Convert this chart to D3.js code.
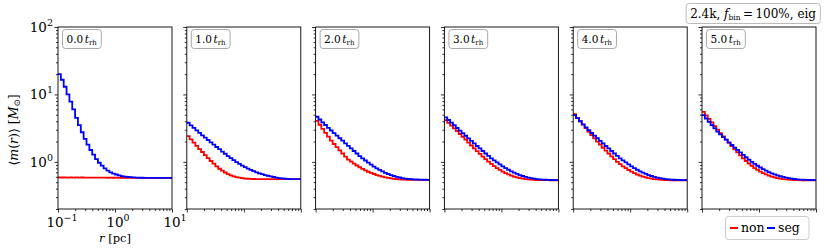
<!DOCTYPE html>
<html lang="en">
<head>
<meta charset="UTF-8">
<title>mean mass profile</title>
<script src="https://d3js.org/d3.v7.min.js"></script>
<style>
  body { margin: 0; background: #fff; }
  svg text { font-family: "DejaVu Serif", serif; fill: #000; }
</style>
</head>
<body>
<div id="chart"></div>
<script>
// snapshot labels (in t_rh)
const times = ["0.0", "1.0", "2.0", "3.0", "4.0", "5.0"];

// <m(r)> per radial bin (40 log bins, 0.1 - 10 pc)
const nonSeg = [
  [0.59, 0.586, 0.589, 0.584, 0.588, 0.585, 0.587, 0.583, 0.586, 0.584, 0.585, 0.582, 0.585, 0.583, 0.584, 0.582, 0.583, 0.581, 0.583, 0.581, 0.582, 0.58, 0.581, 0.58, 0.581, 0.579, 0.58, 0.579, 0.58, 0.579, 0.579, 0.578, 0.579, 0.578, 0.578, 0.578, 0.577, 0.578, 0.577, 0.577],
  [2.41, 2.15, 1.93, 1.73, 1.55, 1.40, 1.26, 1.14, 1.03, 0.94, 0.86, 0.79, 0.74, 0.695, 0.66, 0.632, 0.61, 0.595, 0.582, 0.573, 0.566, 0.562, 0.559, 0.557, 0.556, 0.555, 0.554, 0.554, 0.554, 0.554, 0.553, 0.553, 0.553, 0.553, 0.553, 0.553, 0.553, 0.553, 0.553, 0.553],
  [4.06, 3.55, 3.09, 2.69, 2.36, 2.07, 1.84, 1.65, 1.48, 1.33, 1.20, 1.08, 1.01, 0.944, 0.883, 0.832, 0.785, 0.746, 0.713, 0.685, 0.661, 0.638, 0.619, 0.604, 0.59, 0.578, 0.569, 0.561, 0.555, 0.551, 0.547, 0.545, 0.543, 0.543, 0.542, 0.542, 0.541, 0.541, 0.541, 0.541],
  [4.16, 3.78, 3.44, 3.13, 2.85, 2.59, 2.35, 2.13, 1.93, 1.75, 1.58, 1.44, 1.31, 1.20, 1.10, 1.01, 0.933, 0.867, 0.809, 0.760, 0.718, 0.682, 0.652, 0.627, 0.605, 0.589, 0.575, 0.565, 0.556, 0.55, 0.545, 0.541, 0.538, 0.537, 0.536, 0.535, 0.535, 0.534, 0.534, 0.534],
  [5.1, 4.5, 4.0, 3.56, 3.16, 2.79, 2.5, 2.24, 2.0, 1.8, 1.62, 1.47, 1.33, 1.21, 1.10, 1.0, 0.925, 0.86, 0.805, 0.757, 0.715, 0.68, 0.65, 0.625, 0.604, 0.587, 0.573, 0.563, 0.555, 0.549, 0.544, 0.54, 0.537, 0.535, 0.534, 0.533, 0.533, 0.533, 0.532, 0.532],
  [5.53, 4.9, 4.35, 3.85, 3.4, 3.0, 2.66, 2.38, 2.13, 1.91, 1.71, 1.53, 1.38, 1.25, 1.13, 1.03, 0.94, 0.87, 0.81, 0.76, 0.718, 0.682, 0.652, 0.627, 0.606, 0.589, 0.575, 0.565, 0.556, 0.55, 0.545, 0.541, 0.538, 0.536, 0.535, 0.534, 0.534, 0.533, 0.533, 0.533]
];
const seg = [
  [20, 16.5, 13, 10, 7.8, 6.0, 4.5, 3.5, 2.75, 2.2, 1.8, 1.5, 1.28, 1.1, 0.97, 0.88, 0.8, 0.74, 0.7, 0.67, 0.65, 0.63, 0.615, 0.605, 0.598, 0.592, 0.588, 0.585, 0.583, 0.581, 0.58, 0.579, 0.579, 0.578, 0.578, 0.578, 0.577, 0.577, 0.577, 0.577],
  [3.80, 3.48, 3.20, 2.94, 2.69, 2.47, 2.29, 2.11, 1.95, 1.80, 1.66, 1.54, 1.42, 1.32, 1.22, 1.135, 1.06, 0.993, 0.933, 0.881, 0.836, 0.794, 0.759, 0.728, 0.70, 0.676, 0.656, 0.638, 0.622, 0.608, 0.596, 0.585, 0.575, 0.569, 0.562, 0.558, 0.556, 0.555, 0.553, 0.553],
  [4.67, 4.25, 3.86, 3.52, 3.20, 2.92, 2.67, 2.45, 2.24, 2.06, 1.88, 1.73, 1.58, 1.45, 1.33, 1.22, 1.13, 1.047, 0.973, 0.908, 0.851, 0.802, 0.759, 0.721, 0.689, 0.661, 0.637, 0.617, 0.60, 0.586, 0.575, 0.566, 0.56, 0.555, 0.551, 0.548, 0.546, 0.545, 0.543, 0.542],
  [4.57, 4.18, 3.82, 3.49, 3.18, 2.91, 2.66, 2.44, 2.23, 2.05, 1.88, 1.72, 1.58, 1.45, 1.33, 1.23, 1.13, 1.05, 0.98, 0.915, 0.858, 0.808, 0.764, 0.725, 0.692, 0.663, 0.638, 0.617, 0.60, 0.585, 0.573, 0.563, 0.556, 0.55, 0.546, 0.543, 0.54, 0.538, 0.537, 0.536],
  [4.94, 4.45, 4.0, 3.6, 3.25, 2.95, 2.68, 2.45, 2.24, 2.05, 1.88, 1.72, 1.58, 1.45, 1.33, 1.23, 1.13, 1.05, 0.98, 0.915, 0.858, 0.808, 0.764, 0.725, 0.692, 0.663, 0.638, 0.617, 0.60, 0.585, 0.573, 0.563, 0.556, 0.55, 0.546, 0.543, 0.54, 0.538, 0.537, 0.536],
  [4.94, 4.4, 3.92, 3.5, 3.13, 2.8, 2.55, 2.33, 2.13, 1.95, 1.78, 1.63, 1.5, 1.38, 1.27, 1.17, 1.08, 1.0, 0.935, 0.876, 0.825, 0.78, 0.74, 0.705, 0.676, 0.651, 0.63, 0.612, 0.597, 0.584, 0.573, 0.564, 0.557, 0.551, 0.547, 0.543, 0.541, 0.539, 0.538, 0.537]
];

const rRange = [0.1, 10];
const mRange = [0.2, 100];
const nBins = 40;
// log-spaced bin edges in r
const edges = d3.range(nBins + 1).map(i => Math.pow(10, Math.log10(rRange[0]) + i * Math.log10(rRange[1] / rRange[0]) / nBins));

const W = 830, H = 249;
const left0 = 58, pw = 114, gap = 14.8;
const yTop = 27, yBot = 209;

const svg = d3.select("#chart").append("svg")
  .attr("width", W).attr("height", H)
  .attr("font-family", '"DejaVu Serif", serif');

const y = d3.scaleLog().domain(mRange).range([yBot, yTop]);

const yMajor = [1, 10, 100];
const yMinor = [];
[0.1, 1, 10].forEach(d => d3.range(2, 10).forEach(k => { const v = d * k; if (v >= mRange[0] && v <= mRange[1]) yMinor.push(v); }));
const xMajor = [0.1, 1, 10];
const xMinor = [];
[0.1, 1].forEach(d => d3.range(2, 10).forEach(k => xMinor.push(d * k)));

const step = d3.line().curve(d3.curveStepAfter);

times.forEach((t, p) => {
  const x0 = left0 + p * (pw + gap);
  const x = d3.scaleLog().domain(rRange).range([x0, x0 + pw]);
  const g = svg.append("g");

  g.append("clipPath").attr("id", "clip" + p)
    .append("rect").attr("x", x0).attr("y", yTop).attr("width", pw).attr("height", yBot - yTop);

  // ticks (labels drawn separately)
  const ax = (gen, vals, size) => gen.tickValues(vals).tickSize(size).tickFormat("");
  [[yMajor, 3.5], [yMinor, 2]].forEach(([vals, s]) => {
    g.append("g").attr("transform", `translate(${x0},0)`)
      .call(ax(d3.axisLeft(y), vals, s))
      .call(a => a.select(".domain").remove())
      .call(a => a.selectAll("text").remove())
      .selectAll("line").attr("stroke-width", 0.8);
  });
  [[xMajor, 3.5], [xMinor, 2]].forEach(([vals, s]) => {
    g.append("g").attr("transform", `translate(0,${yBot})`)
      .call(ax(d3.axisBottom(x), vals, s))
      .call(a => a.select(".domain").remove())
      .call(a => a.selectAll("text").remove())
      .selectAll("line").attr("stroke-width", 0.8);
  });

  const pts = vals => vals.map((v, i) => [x(edges[i]), y(v)]).concat([[x(edges[nBins]), y(vals[nBins - 1])]]);

  g.append("path").attr("clip-path", `url(#clip${p})`)
    .attr("d", step(pts(nonSeg[p])))
    .attr("fill", "none").attr("stroke", "#ff0000").attr("stroke-width", 1.8);
  g.append("path").attr("clip-path", `url(#clip${p})`)
    .attr("d", step(pts(seg[p])))
    .attr("fill", "none").attr("stroke", "#0000ff").attr("stroke-width", 1.8);

  // frame
  g.append("rect").attr("x", x0).attr("y", yTop).attr("width", pw).attr("height", yBot - yTop)
    .attr("fill", "none").attr("stroke", "#000").attr("stroke-width", 0.9);

  // time label box
  const box = g.append("rect");
  const lab = g.append("text").attr("x", x0 + 8.5).attr("y", yTop + 15.5).attr("font-size", 10.5);
  lab.append("tspan").text(t);
  lab.append("tspan").attr("dx", 1.5).attr("font-style", "italic").text("t");
  lab.append("tspan").attr("dy", 2).attr("font-size", 7).text("rh");
  const bb = lab.node().getBBox();
  box.attr("x", bb.x - 4).attr("y", yTop + 2.5).attr("width", bb.width + 8).attr("height", 19)
    .attr("rx", 3).attr("fill", "#fff").attr("stroke", "#aaa").attr("stroke-width", 1);

  // tick labels only on first panel
  if (p === 0) {
    const pow = (sel, e) => {
      sel.append("tspan").text("10");
      sel.append("tspan").attr("dy", -6).attr("font-size", 9.5).text(e);
    };
    [[100, "2"], [10, "1"], [1, "0"]].forEach(([v, e]) => {
      const tx = svg.append("text").attr("x", x0 - 5).attr("y", y(v) + 5)
        .attr("text-anchor", "end").attr("font-size", 13.5);
      pow(tx, e);
    });
    [[0.1, "\u22121"], [1, "0"], [10, "1"]].forEach(([v, e]) => {
      const tx = svg.append("text").attr("x", x(v) + (e === "\u22121" ? 4 : 3)).attr("y", yBot + 18)
        .attr("text-anchor", "middle").attr("font-size", 13.5);
      pow(tx, e);
    });
    const xl = svg.append("text").attr("x", x(1)).attr("y", yBot + 33)
      .attr("text-anchor", "middle").attr("font-size", 11.5);
    xl.append("tspan").attr("font-style", "italic").text("r");
    xl.append("tspan").text(" [pc]");
  }
});

// y axis title
const yl = svg.append("text")
  .attr("transform", `translate(18,${(yTop + yBot) / 2 + 12}) rotate(-90)`)
  .attr("text-anchor", "middle").attr("font-size", 12.5);
yl.append("tspan").text("\u27E8");
yl.append("tspan").attr("font-style", "italic").text("m");
yl.append("tspan").text("(");
yl.append("tspan").attr("font-style", "italic").text("r");
yl.append("tspan").text(")\u27E9 [");
yl.append("tspan").attr("font-style", "italic").text("M");
yl.append("tspan").attr("dy", 2).attr("font-size", 8.5).text("\u2299");
yl.append("tspan").attr("dy", -2).text("]");

// run info box, top right
const infoBox = svg.append("rect");
const info = svg.append("text").attr("x", 816).attr("y", 18).attr("text-anchor", "end").attr("font-size", 12);
info.append("tspan").text("2.4k, ");
info.append("tspan").attr("font-style", "italic").text("f");
info.append("tspan").attr("dy", 2).attr("font-size", 7.5).text("bin");
info.append("tspan").attr("dy", -2).text("\u2009=\u2009100%, eig");
const ib = info.node().getBBox();
infoBox.attr("x", ib.x - 4).attr("y", 3.5).attr("width", ib.width + 8).attr("height", 20)
  .attr("rx", 3).attr("fill", "#fff").attr("stroke", "#bbb");

// legend
const series = [["non", "#ff0000"], ["seg", "#0000ff"]];
const leg = svg.append("g");
leg.append("rect").attr("x", 725.5).attr("y", 216.5).attr("width", 83.5).attr("height", 23)
  .attr("rx", 3).attr("fill", "#fff").attr("stroke", "#ccc");
series.forEach(([name, c], i) => {
  const lx = 730 + i * 37;
  leg.append("line").attr("x1", lx).attr("x2", lx + 8).attr("y1", 228).attr("y2", 228)
    .attr("stroke", c).attr("stroke-width", 2);
  leg.append("text").attr("x", lx + 11).attr("y", 232).attr("font-size", 12.5).text(name);
});
</script>
</body>
</html>
